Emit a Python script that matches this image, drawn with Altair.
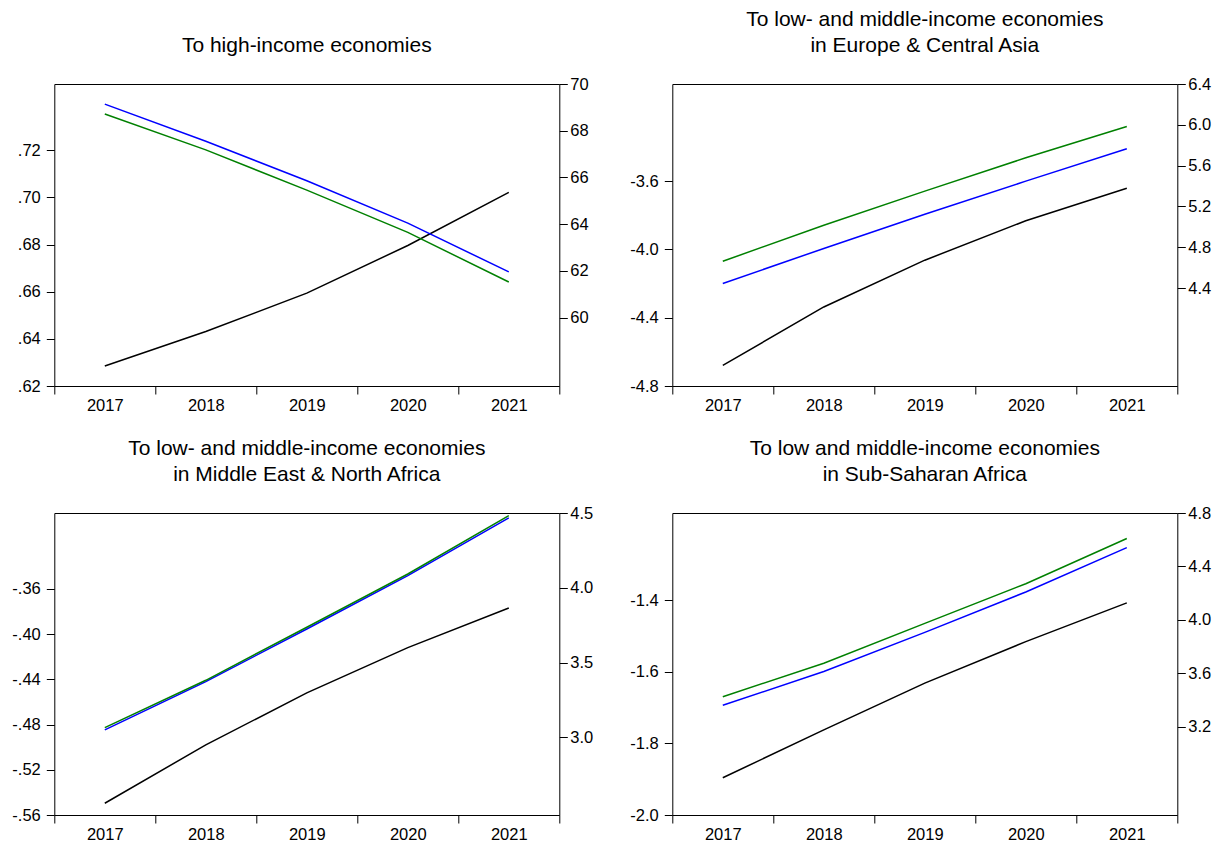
import altair as alt
import pandas as pd

years = [2017, 2018, 2019, 2020, 2021]

titles = [
    "To high-income economies",
    ["To low- and middle-income economies", "in Europe & Central Asia"],
    ["To low- and middle-income economies", "in Middle East & North Africa"],
    ["To low and middle-income economies", "in Sub-Saharan Africa"],
]

# black series (left axis)
black_series = [
    [0.6285, 0.6431, 0.6594, 0.6796, 0.7021],
    [-4.679, -4.337, -4.063, -3.832, -3.642],
    [-0.5496, -0.498, -0.452, -0.412, -0.377],
    [-1.896, -1.7625, -1.632, -1.516, -1.408],
]
# blue series (right axis)
blue_series = [
    [69.14, 67.55, 65.86, 64.05, 61.96],
    [4.445, 4.788, 5.123, 5.448, 5.765],
    [3.049, 3.372, 3.724, 4.081, 4.467],
    [3.361, 3.614, 3.907, 4.209, 4.541],
]
# green series (right axis)
green_series = [
    [68.72, 67.18, 65.46, 63.65, 61.53],
    [4.663, 5.015, 5.350, 5.677, 5.983],
    [3.064, 3.381, 3.736, 4.092, 4.482],
    [3.425, 3.676, 3.974, 4.271, 4.609],
]

left_domains = [[0.62, 0.7481], [-4.8, -3.031], [-0.56, -0.293], [-2.0, -1.157]]
right_domains = [[57.08, 70.0], [3.44, 6.4], [2.48, 4.5], [2.54, 4.8]]
left_ticks = [
    [0.62, 0.64, 0.66, 0.68, 0.70, 0.72],
    [-4.8, -4.4, -4.0, -3.6],
    [-0.56, -0.52, -0.48, -0.44, -0.40, -0.36],
    [-2.0, -1.8, -1.6, -1.4],
]
right_ticks = [
    [60, 62, 64, 66, 68, 70],
    [4.4, 4.8, 5.2, 5.6, 6.0, 6.4],
    [3.0, 3.5, 4.0, 4.5],
    [3.2, 3.6, 4.0, 4.4, 4.8],
]
left_label_expr = [
    "replace(replace(format(datum.value, '.2f'), '0.', '.'), '\u2212', '-')",
    "replace(format(datum.value, '.1f'), '\u2212', '-')",
    "replace(replace(format(datum.value, '.2f'), '0.', '.'), '\u2212', '-')",
    "replace(format(datum.value, '.1f'), '\u2212', '-')",
]
right_label_expr = [
    "format(datum.value, 'd')",
    "format(datum.value, '.1f')",
    "format(datum.value, '.1f')",
    "format(datum.value, '.1f')",
]

W, H = 505, 302
FONT = "Liberation Sans"
LABEL_SIZE = 16.5
band_edges = [2016.5, 2017.5, 2018.5, 2019.5, 2020.5, 2021.5]


def panel(i):
    df_left = pd.DataFrame({"year": years, "value": black_series[i]})
    df_right = pd.DataFrame({
        "year": years + years,
        "value": blue_series[i] + green_series[i],
        "series": ["blue"] * 5 + ["green"] * 5,
    })
    x = alt.X(
        "year:Q",
        scale=alt.Scale(domain=[2016.5, 2021.5], nice=False, zero=False),
        axis=alt.Axis(
            values=band_edges,
            labelExpr="datum.value < 2021 ? format(datum.value + 0.5, 'd') : ''",
            labelOffset=W / 10,
            labelOverlap=False,
            labelFlush=False,
            labelBound=False,
            tickSize=8,
            labelPadding=3,
            title=None,
            grid=False,
            domain=False,
        ),
    )
    left = alt.Chart(df_left).mark_line(color="black", strokeWidth=1.5).encode(
        x=x,
        y=alt.Y(
            "value:Q",
            scale=alt.Scale(domain=left_domains[i], nice=False, zero=False),
            axis=alt.Axis(
                orient="left",
                values=left_ticks[i],
                labelExpr=left_label_expr[i],
                title=None,
                grid=False,
                domain=False,
                tickSize=8,
                labelPadding=6,
                labelOverlap=False,
                labelBound=False,
                labelFlush=False,
            ),
        ),
    )
    right = alt.Chart(df_right).mark_line(strokeWidth=1.5).encode(
        x=x,
        y=alt.Y(
            "value:Q",
            scale=alt.Scale(domain=right_domains[i], nice=False, zero=False),
            axis=alt.Axis(
                orient="right",
                values=right_ticks[i],
                labelExpr=right_label_expr[i],
                title=None,
                grid=False,
                domain=False,
                tickSize=8,
                labelPadding=2.5,
                labelOverlap=False,
                labelBound=False,
                labelFlush=False,
            ),
        ),
        color=alt.Color(
            "series:N",
            scale=alt.Scale(domain=["blue", "green"], range=["#0000ff", "#008000"]),
            legend=None,
        ),
    )
    return (
        alt.layer(
            left,
            right,
            title=alt.Title(
                titles[i],
                fontSize=21,
                fontWeight="normal",
                font=FONT,
                color="black",
                lineHeight=26.5,
                offset=20,
                anchor="middle",
                frame="group",
            ),
        )
        .resolve_scale(y="independent")
        .properties(width=W, height=H)
    )


chart = (
    alt.concat(
        panel(0), panel(1), panel(2), panel(3),
        columns=2,
        spacing={"row": 127, "column": 113},
        bounds="flush",
    )
    .properties(
        autosize=alt.AutoSizeParams(type="none"),
        padding={"left": 46.3, "top": 76, "right": 1163.7, "bottom": 761},
        background="white",
    )
    .configure_view(stroke="black", strokeWidth=1)
    .configure_axis(
        labelFont=FONT,
        labelFontSize=LABEL_SIZE,
        labelColor="black",
        tickColor="black",
        tickWidth=1,
    )
)

chart.save("out.html", embed_options={"renderer": "svg", "actions": False})
